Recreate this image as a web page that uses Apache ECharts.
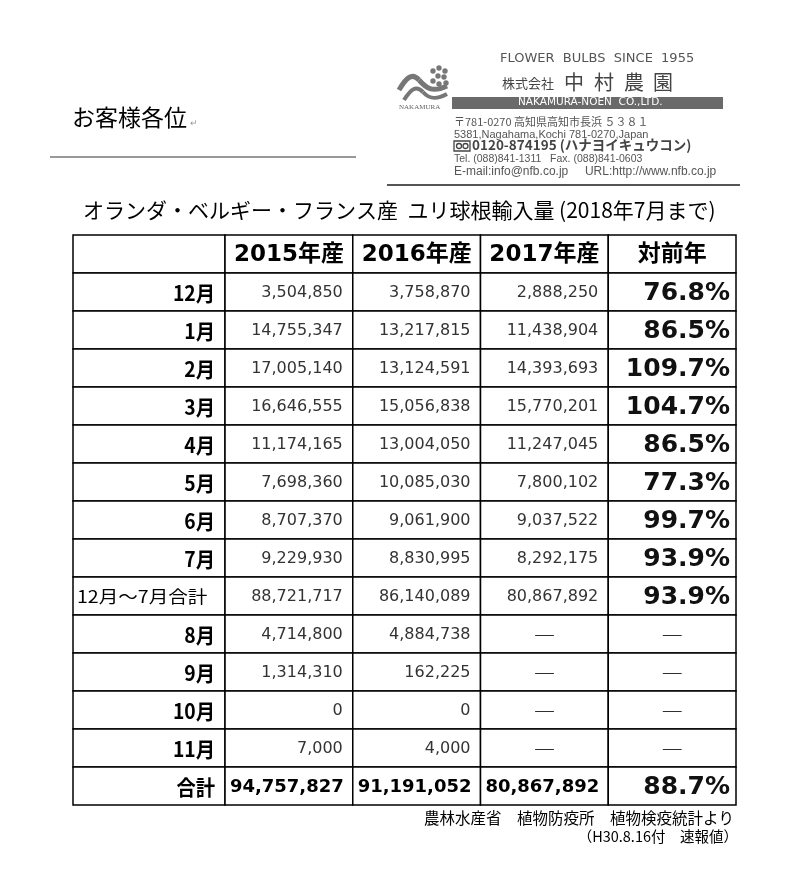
<!DOCTYPE html>
<html>
<head>
<meta charset="utf-8">
<script src="https://cdn.jsdelivr.net/npm/echarts@6/dist/echarts.min.js"></script>
<style>
  html, body { margin: 0; padding: 0; background: #fff; }
  #chart { width: 787px; height: 870px; }
</style>
</head>
<body>
<div id="chart"></div>
<script>
// 表のデータ
const headers = ["", "2015年産", "2016年産", "2017年産", "対前年"];
const rowLabels = ["12月", "1月", "2月", "3月", "4月", "5月", "6月", "7月",
  "12月〜7月合計", "8月", "9月", "10月", "11月", "合計"];
const y2015 = [3504850, 14755347, 17005140, 16646555, 11174165, 7698360, 8707370,
  9229930, 88721717, 4714800, 1314310, 0, 7000, 94757827];
const y2016 = [3758870, 13217815, 13124591, 15056838, 13004050, 10085030, 9061900,
  8830995, 86140089, 4884738, 162225, 0, 4000, 91191052];
const y2017 = [2888250, 11438904, 14393693, 15770201, 11247045, 7800102, 9037522,
  8292175, 80867892, null, null, null, null, 80867892];
const ratio = [76.8, 86.5, 109.7, 104.7, 86.5, 77.3, 99.7, 93.9, 93.9,
  null, null, null, null, 88.7];

// 列の境界（x軸の単位）
const colEdges = [0, 1.19, 2.19, 3.19, 4.19, 5.19];

const CJK = '"Noto Sans CJK JP", sans-serif';
const NUM = '"DejaVu Sans", "Noto Sans CJK JP", sans-serif';
const ARIAL = '"Liberation Sans", Arial, sans-serif';

const fmt = (v) => v.toLocaleString("en-US");

// セル一覧を作る
const cells = [];
headers.forEach((h, c) => cells.push({ col: c, row: 0, text: h, kind: "head" }));
rowLabels.forEach((label, i) => {
  const r = i + 1;
  const isTotal = label === "合計";
  cells.push({ col: 0, row: r, text: label, kind: label.length > 4 ? "labelSmall" : "label" });
  [y2015, y2016, y2017].forEach((arr, k) => {
    const v = arr[i];
    if (v == null) cells.push({ col: k + 1, row: r, text: "―", kind: "dash" });
    else cells.push({ col: k + 1, row: r, text: fmt(v), kind: isTotal ? "numBold" : "num" });
  });
  if (ratio[i] == null) cells.push({ col: 4, row: r, text: "―", kind: "dash" });
  else cells.push({ col: 4, row: r, text: ratio[i].toFixed(1) + "%", kind: "pct" });
});

const styles = {
  head: { font: "bold 23px " + NUM, align: "center", pad: 0, fill: "#000", sx: 1 },
  label: { font: "bold 21px " + CJK, align: "right", pad: 10, fill: "#000", sx: 0.92 },
  labelSmall: { font: "17px " + CJK, align: "left", pad: 4, fill: "#000", sx: 1.15 },
  num: { font: "16px " + NUM, align: "right", pad: 10, fill: "#333", sx: 1 },
  numBold: { font: "bold 18px " + NUM, align: "right", pad: 9, fill: "#000", sx: 1 },
  pct: { font: "bold 25px " + NUM, align: "right", pad: 6, fill: "#111", sx: 1 },
  dash: { font: "22px " + CJK, align: "center", pad: 0, fill: "#222", sx: 1 },
};

function renderItem(params, api) {
  const c = cells[params.dataIndex];
  const p0 = api.coord([colEdges[c.col], c.row]);
  const p1 = api.coord([colEdges[c.col + 1], c.row + 1]);
  const x = p0[0], y = p0[1], w = p1[0] - p0[0], h = p1[1] - p0[1];
  const st = styles[c.kind];
  let tx = x + w / 2;
  if (st.align === "right") tx = x + w - st.pad;
  if (st.align === "left") tx = x + st.pad;
  return {
    type: "group",
    children: [
      {
        type: "rect",
        shape: { x: x, y: y, width: w, height: h },
        style: { fill: "#fff", stroke: "#000", lineWidth: 1.5 },
      },
      {
        type: "text",
        x: tx,
        y: y + h / 2 + 1,
        scaleX: st.sx,
        style: {
          x: 0, y: 0, text: c.text, font: st.font, fill: st.fill,
          textAlign: st.align, textVerticalAlign: "middle",
        },
      },
    ],
  };
}

const grey = "#555";
const dot = (cx, cy) => ({ type: "circle", shape: { cx: cx, cy: cy, r: 2.7 }, style: { fill: "#777" } });
const curve = (x1, y1, c1x, c1y, c2x, c2y, x2, y2, lw) => ({
  type: "bezierCurve",
  shape: { x1: x1, y1: y1, cpx1: c1x, cpy1: c1y, cpx2: c2x, cpy2: c2y, x2: x2, y2: y2 },
  style: { fill: "none", stroke: "#777", lineWidth: lw },
});
const bigChar = (ch, x) => ({ type: "text", x: x, y: 72, style: { text: ch, font: "20px " + CJK, fill: "#444" } });

const graphic = [
  // 宛名
  { type: "text", x: 72, y: 106, style: { text: "お客様各位", font: "23px " + CJK, fill: "#000" } },
  { type: "text", x: 190, y: 118, style: { text: "↵", font: "9px " + CJK, fill: "#999" } },
  { type: "line", shape: { x1: 50, y1: 157, x2: 356, y2: 157 }, style: { stroke: "#777", lineWidth: 1.5 } },
  // ロゴ
  dot(433, 71), dot(439, 68), dot(445, 71), dot(438, 76), dot(444, 77), dot(433, 81), dot(439, 84), dot(446, 83),
  curve(399, 90, 406, 78, 412, 72, 419, 80, 5),
  curve(419, 80, 426, 88, 432, 93, 447, 86, 5),
  curve(404, 100, 411, 89, 416, 85, 423, 92, 4),
  curve(423, 92, 429, 99, 436, 100, 447, 94, 4),
  { type: "text", x: 399, y: 104, style: { text: "NAKAMURA", font: "7px serif", fill: "#666" } },
  // 会社名
  { type: "text", x: 500, y: 52, style: { text: "FLOWER  BULBS  SINCE  1955", font: "13px " + NUM, fill: grey } },
  { type: "text", x: 502, y: 77, style: { text: "株式会社", font: "13px " + CJK, fill: "#444" } },
  bigChar("中", 564), bigChar("村", 594), bigChar("農", 624), bigChar("園", 653),
  { type: "rect", shape: { x: 452, y: 97, width: 271, height: 12 }, style: { fill: "#6a6a6a" } },
  { type: "text", x: 518, y: 97.5, style: { text: "NAKAMURA-NOEN  CO.,LTD.", font: "10.5px " + NUM, fill: "#fff" } },
  { type: "text", x: 454, y: 116, style: { text: "〒781-0270 高知県高知市長浜 ５３８１", font: "11px " + CJK, fill: grey } },
  { type: "text", x: 454, y: 129, style: { text: "5381,Nagahama,Kochi 781-0270,Japan", font: "11px " + ARIAL, fill: grey } },
  { type: "rect", shape: { x: 454, y: 141, width: 16, height: 10 }, style: { fill: "#fff", stroke: "#444", lineWidth: 1.3 } },
  { type: "circle", shape: { cx: 459, cy: 146, r: 2.5 }, style: { fill: "none", stroke: "#444", lineWidth: 1.3 } },
  { type: "circle", shape: { cx: 465.5, cy: 146, r: 2.5 }, style: { fill: "none", stroke: "#444", lineWidth: 1.3 } },
  { type: "text", x: 472, y: 138, style: { text: "0120-874195 (ハナヨイキュウコン)", font: "bold 13.5px " + CJK, fill: "#444" } },
  { type: "text", x: 454, y: 154, style: { text: "Tel. (088)841-1311   Fax. (088)841-0603", font: "10.5px " + ARIAL, fill: grey } },
  { type: "text", x: 454, y: 166, style: { text: "E-mail:info@nfb.co.jp     URL:http://www.nfb.co.jp", font: "12px " + ARIAL, fill: grey } },
  { type: "line", shape: { x1: 387, y1: 185, x2: 740, y2: 185 }, style: { stroke: "#555", lineWidth: 2 } },
  // 表題
  { type: "text", x: 83, y: 200, style: { text: "オランダ・ベルギー・フランス産  ユリ球根輸入量 (2018年7月まで)", font: "21px " + CJK, fill: "#000" } },
  // 出典
  { type: "text", x: 734, y: 810, style: { text: "農林水産省　植物防疫所　植物検疫統計より", font: "15.5px " + CJK, fill: "#000", textAlign: "right" } },
  { type: "text", x: 738, y: 829, style: { text: "（H30.8.16付　速報値）", font: "14.5px " + CJK, fill: "#000", textAlign: "right" } },
];

const chart = echarts.init(document.getElementById("chart"));
chart.setOption({
  backgroundColor: "#fff",
  animation: false,
  grid: { left: 73, top: 235, width: 663, height: 570 },
  xAxis: { type: "value", min: 0, max: 5.19, show: false },
  yAxis: { type: "value", min: 0, max: 15, inverse: true, show: false },
  graphic: graphic,
  series: [
    {
      type: "custom",
      renderItem: renderItem,
      clip: false,
      data: cells.map((c) => [colEdges[c.col], c.row]),
    },
  ],
});
</script>
</body>
</html>
